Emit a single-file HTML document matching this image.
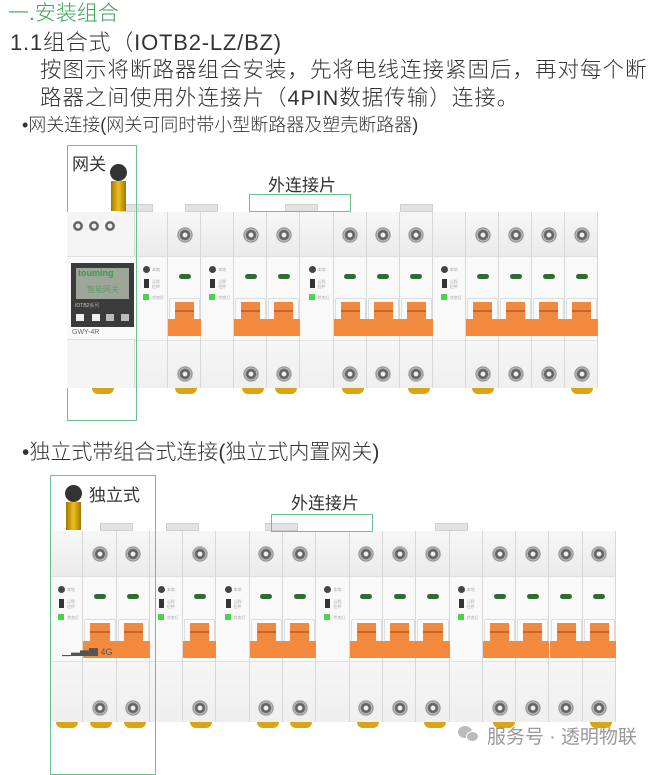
<!DOCTYPE html>
<html><head><meta charset="utf-8">
<style>
*{margin:0;padding:0;box-sizing:border-box}
body{width:660px;height:762px;background:#fff;position:relative;overflow:hidden;font-family:"Liberation Sans","Noto Sans CJK SC",sans-serif;font-weight:300;color:#333}
.t{position:absolute;white-space:nowrap}
.a{position:absolute}
.gb{position:absolute;border:1.5px solid #6cc28e}
.scr{position:absolute;width:16px;height:16px;border-radius:50%;background:radial-gradient(circle,#eee 0 2px,#555 3px,#777 5px,#ccc 6px,#888 7px,#ddd 8px)}
.mod{position:absolute;border-right:1px solid #d8d8d8}
.hw{position:absolute;background:#fafafa;border:1px solid #ddd;border-radius:2px}
.ho{position:absolute;background:#f08a40}
.hb{position:absolute;background:#f38a3d}
.led{position:absolute;width:12px;height:5px;border-radius:3px;background:#2f6b33}
.cam{position:absolute;height:6px;background:#d9a514;border-radius:0 0 6px 6px}
.tab{position:absolute;height:8px;background:#e2e2e2;border:1px solid #d0d0d0}
.sm{position:absolute;font-size:4px;color:#888;line-height:5px}
.dot{position:absolute;width:7px;height:7px;border-radius:50%;background:#444}
.sw{position:absolute;width:5px;height:9px;background:#333}
.gl{position:absolute;width:6px;height:6px;background:#4cd24c}
</style></head><body>
<div class="t" style="left:8px;top:-3px;font-size:21px;color:#3aa35a">一.安装组合</div>
<div class="t" style="left:10px;top:25px;font-size:22px;letter-spacing:0.8px">1.1组合式（IOTB2-LZ/BZ)</div>
<div class="t" style="left:40px;top:53px;font-size:21.5px;letter-spacing:1.0px">按图示将断路器组合安装，先将电线连接紧固后，再对每个断</div>
<div class="t" style="left:40px;top:81px;font-size:21.5px;letter-spacing:1.0px">路器之间使用外连接片（4PIN数据传输）连接。</div>
<div class="t" style="left:22px;top:111px;font-size:18px">•网关连接(网关可同时带小型断路器及塑壳断路器)</div>
<div class="t" style="left:22px;top:436px;font-size:21px">•独立式带组合式连接(独立式内置网关)</div>

<div id="r1"></div><div id="r2"></div>

<div class="gb" style="left:67px;top:145px;width:70px;height:276px"></div>
<div class="t" style="left:72px;top:150px;font-size:17px;font-weight:400">网关</div>
<div class="t" style="left:268px;top:171px;font-size:17px;font-weight:400">外连接片</div>
<div class="gb" style="left:249px;top:194px;width:102px;height:18px"></div>
<div class="gb" style="left:50px;top:475px;width:106px;height:300px"></div>
<div class="t" style="left:89px;top:481px;font-size:17px;font-weight:400">独立式</div>
<div class="t" style="left:291px;top:489px;font-size:17px;font-weight:400">外连接片</div>
<div class="gb" style="left:271px;top:514px;width:102px;height:18px"></div>

<div class="a" style="left:458px;top:726px;width:14px;height:12px;border-radius:50%;background:#bbb"></div>
<div class="a" style="left:466px;top:731px;width:13px;height:11px;border-radius:50%;background:#bbb;border:1px solid #fff"></div>
<div class="t" style="left:487px;top:722px;font-size:19px;color:#999;font-weight:400">服务号 · 透明物联</div>

<script>
function build(id,x0,w,kinds,y,tabs,cams){
 var top=y.top,mid=y.mid,hs=y.hs,he=y.he,low=y.low,end=y.end,h='';
 var W=x0+w*kinds.length;
 h+='<div class="a" style="left:'+x0+'px;top:'+top+'px;width:'+(W-x0)+'px;height:'+(mid-top)+'px;background:linear-gradient(#f7f7f7,#ebebeb)"></div>';
 h+='<div class="a" style="left:'+x0+'px;top:'+mid+'px;width:'+(W-x0)+'px;height:'+(low-mid)+'px;background:#f9f9f9;border-top:1px solid #e0e0e0"></div>';
 h+='<div class="a" style="left:'+x0+'px;top:'+low+'px;width:'+(W-x0)+'px;height:'+(end-low)+'px;background:linear-gradient(#f6f6f6,#efefef);border-top:1px solid #e2e2e2"></div>';
 tabs.forEach(function(t){h+='<div class="tab" style="left:'+t+'px;top:'+(top-8)+'px;width:33px"></div>';});
 kinds.forEach(function(k,i){
  var x=x0+i*w;
  h+='<div class="mod" style="left:'+x+'px;top:'+top+'px;width:'+w+'px;height:'+(end-top)+'px"></div>';
  if(k=='H'){
   h+='<div class="scr" style="left:'+(x+w/2-8)+'px;top:'+(top+15)+'px"></div>';
   h+='<div class="scr" style="left:'+(x+w/2-8)+'px;top:'+(end-22)+'px"></div>';
   h+='<div class="led" style="left:'+(x+w/2-6)+'px;top:'+(mid+18)+'px"></div>';
   h+='<div class="hw" style="left:'+(x+1)+'px;top:'+hs+'px;width:'+(w-2)+'px;height:'+(he-hs-10)+'px"></div>';
   h+='<div class="ho" style="left:'+(x+7)+'px;top:'+(hs+4)+'px;width:'+(w-14)+'px;height:'+(he-hs-12)+'px"></div>';
   h+='<div class="hb" style="left:'+x+'px;top:'+(he-17)+'px;width:'+w+'px;height:17px"></div>';
   h+='<div class="a" style="left:'+(x+7)+'px;top:'+(hs+12)+'px;width:'+(w-14)+'px;height:2px;background:#c8652a"></div>';
  } else if(k=='L'){
   h+='<div class="dot" style="left:'+(x+8)+'px;top:'+(mid+10)+'px"></div><div class="sm" style="left:'+(x+17)+'px;top:'+(mid+11)+'px">本地</div>';
   h+='<div class="sw" style="left:'+(x+9)+'px;top:'+(mid+23)+'px"></div><div class="sm" style="left:'+(x+17)+'px;top:'+(mid+23)+'px">远程<br>检修</div>';
   h+='<div class="gl" style="left:'+(x+8)+'px;top:'+(mid+38)+'px"></div><div class="sm" style="left:'+(x+17)+'px;top:'+(mid+39)+'px">状态灯</div>';
  }
 });
 cams.forEach(function(c){h+='<div class="cam" style="left:'+c+'px;top:'+end+'px;width:22px"></div>';});
 document.getElementById(id).innerHTML=h;
}
build('r1',135,33.1,'LHLHHLHHHLHHHH'.split(''),{top:212,mid:256,hs:298,he:336,low:340,end:388},[120,185,285,400],[175,242,275,342,408,472,571]);
build('r2',50,33.3,'LHHLHLHHLHHHLHHHH'.split(''),{top:531,mid:576,hs:619,he:658,low:661,end:722},[100,166,265,435],[56,90,124,190,257,290,357,424,493,590]);
</script>

<div class="a" style="left:67px;top:212px;width:68px;height:176px;background:#f5f5f5;border-right:1px solid #ddd"></div>
<div class="a" style="left:67px;top:256px;width:68px;height:84px;background:#fafafa;border-top:1px solid #e0e0e0;border-bottom:1px solid #e0e0e0"></div>
<div class="scr" style="left:73px;top:221px;width:10px;height:10px"></div>
<div class="scr" style="left:89px;top:221px;width:10px;height:10px"></div>
<div class="scr" style="left:105px;top:221px;width:10px;height:10px"></div>
<div class="a" style="left:71px;top:263px;width:63px;height:64px;background:#3b3b3b"></div>
<div class="a" style="left:76px;top:268px;width:53px;height:31px;background:#9ea69a"></div>
<div class="t" style="left:78px;top:268px;font-size:9px;color:#3a9b4c;font-weight:700">touming</div>
<div class="t" style="left:87px;top:284px;font-size:8px;color:#3a9b4c">智能网关</div>
<div class="t" style="left:75px;top:302px;font-size:5px;color:#ccc">IOTB2系列</div>
<div class="a" style="left:76px;top:314px;width:8px;height:7px;background:#eee"></div>
<div class="a" style="left:92px;top:314px;width:8px;height:7px;background:#eee"></div>
<div class="a" style="left:106px;top:314px;width:8px;height:7px;background:#bbb"></div>
<div class="a" style="left:121px;top:314px;width:8px;height:7px;background:#bbb"></div>
<div class="t" style="left:72px;top:329px;font-size:7px;color:#666">GWY-4R</div>
<div class="cam" style="left:92px;top:388px;width:22px"></div>
<div class="a" style="left:110px;top:164px;width:17px;height:17px;border-radius:50%;background:#333"></div>
<div class="a" style="left:111px;top:181px;width:15px;height:30px;background:linear-gradient(90deg,#a07800,#f0c020,#a07800)"></div>
<div class="a" style="left:65px;top:485px;width:17px;height:17px;border-radius:50%;background:#333"></div>
<div class="a" style="left:66px;top:502px;width:15px;height:28px;background:linear-gradient(90deg,#a07800,#f0c020,#a07800)"></div>
<div class="t" style="left:62px;top:645px;font-size:9px;color:#555">▁▃▅▇ 4G</div>
</body></html>
